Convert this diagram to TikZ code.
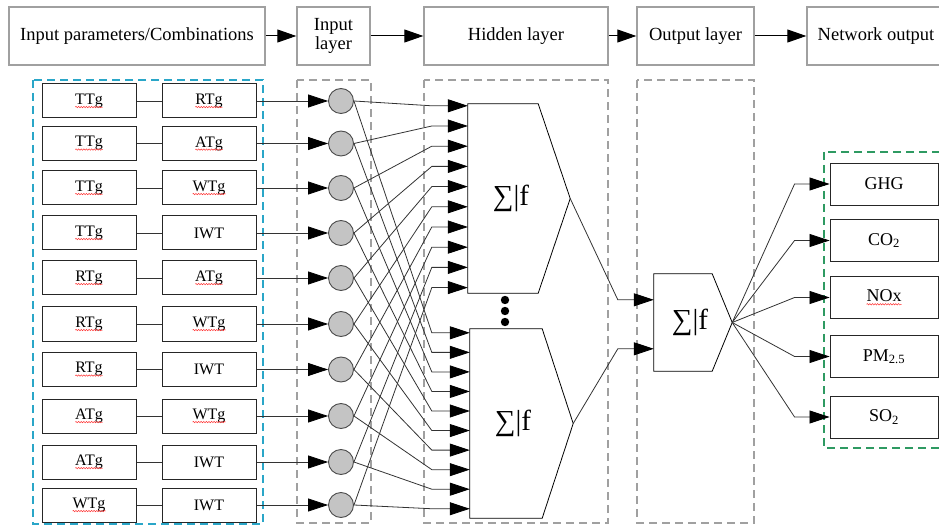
\documentclass[tikz,border=0pt]{standalone}
\usepackage{fontspec}
\setmainfont{Liberation Serif}
\usetikzlibrary{arrows.meta,calc,decorations.pathmorphing}

\definecolor{framegray}{HTML}{A0A0A0}
\definecolor{cyanframe}{HTML}{2AA6C8}
\definecolor{greenframe}{HTML}{2E9A62}
\definecolor{cellgray}{HTML}{C4C4C4}

% red spell-check wave under a word
\newcommand{\spell}[1]{\tikz[baseline=(w.base)]{%
  \node[shape=rectangle, draw=none, fill=none, minimum width=0pt, minimum height=0pt,
    inner sep=0pt, outer sep=0pt] (w) {#1};
  \draw[red!80, line width=0.5pt, decorate, decoration={snake,amplitude=0.7pt,segment length=2.6pt}]
    ([yshift=-2.6pt]w.base west) -- ([yshift=-2.6pt]w.base east);}}
\newcommand{\sumf}[1]{\kern#1∑|f}

\tikzset{
  headbox/.style={draw=framegray, line width=1.4pt, minimum height=58pt, inner sep=2pt,
    align=center, font=\fontsize{18.5}{21}\selectfont},
  headarrow/.style={draw=black, line width=1pt, -{Triangle[length=19pt,width=13pt]}},
  parambox/.style={draw=black!85, line width=1pt, minimum width=94pt, minimum height=34pt,
    font=\fontsize{16}{19}\selectfont},
  neuron/.style={circle, draw=black!70, fill=cellgray, line width=0.9pt, minimum size=25pt, inner sep=0pt},
  outbox/.style={draw=black!85, line width=0.9pt, minimum width=108pt, minimum height=42pt,
    font=\fontsize{18}{21}\selectfont},
  sumcell/.style={inner sep=0pt, font=\fontsize{29}{31}\selectfont},
  wire/.style={draw=black!80, line width=0.8pt},
  feed/.style={wire, -{Triangle[length=20pt,width=13pt,black]}},
  column/.style={draw=framegray, dash pattern=on 8pt off 5pt, line width=1.4pt}
}

\begin{document}
\begin{tikzpicture}[x=1pt,y=-1pt]
  \useasboundingbox (0,0) rectangle (939,526);

  % header
  \node[headbox, minimum width=256pt] (t1) at (137,36)   {Input parameters/Combinations};
  \node[headbox, minimum width=73pt]  (t2) at (333.5,36) {Input\\[-2pt]layer};
  \node[headbox, minimum width=184pt] (t3) at (516,36)   {Hidden layer};
  \node[headbox, minimum width=117pt] (t4) at (695.5,36) {Output layer};
  \node[headbox, minimum width=138pt] (t5) at (876,36)   {Network output};
  \draw[headarrow] (t1) -- (t2);
  \draw[headarrow] (t2) -- (t3);
  \draw[headarrow] (t3) -- (t4);
  \draw[headarrow] (t4) -- (t5);

  % dashed frames
  \draw[column, draw=cyanframe, line width=1.8pt] (33,80) rectangle (263,524);
  \draw[column] (297,80) rectangle (371,523);
  \draw[column] (424,80) rectangle (608,523);
  \draw[column] (637,80) rectangle (754,523);
  \draw[column, draw=greenframe, line width=1.8pt] (824,152) rectangle (950,448);

  % parameter pairs and input neurons
  \foreach \lft/\rgt/\y [count=\i] in {
      \spell{TTg}/\spell{RTg}/101, \spell{TTg}/\spell{ATg}/143.5,
      \spell{TTg}/\spell{WTg}/188, \spell{TTg}/IWT/233,
      \spell{RTg}/\spell{ATg}/278, \spell{RTg}/\spell{WTg}/324,
      \spell{RTg}/IWT/369.5, \spell{ATg}/\spell{WTg}/416,
      \spell{ATg}/IWT/462, \spell{WTg}/IWT/505} {
    \node[parambox] (a\i) at (89,\y)  {\lft};
    \node[parambox] (b\i) at (209,\y) {\rgt};
    \node[neuron]   (n\i) at (341,\y) {};
    \draw[wire] (a\i) -- (b\i);
    \draw[feed] (b\i) -- (n\i);
  }

  % hidden neurons
  \node[sumcell, minimum width=102pt, minimum height=189pt] (h1) at (519,198.5) {\sumf{-16pt}};
  \node[sumcell, minimum width=103pt, minimum height=189pt] (h2) at (521.5,423.5) {\sumf{-17pt}};
  \draw[line width=0.8pt] (h1.north west) -- ($(h1.north east)+(-32,0)$) -- (h1.east)
    -- ($(h1.south east)+(-32,0)$) -- (h1.south west) -- cycle;
  \draw[line width=0.8pt] (h2.north west) -- ($(h2.north east)+(-31,0)$) -- (h2.east)
    -- ($(h2.south east)+(-31,0)$) -- (h2.south west) -- cycle;
  \foreach \d in {300,311,322}
    \fill (505,\d) circle (4.2pt);

  \foreach \i in {1,...,10} {
    \coordinate (u\i) at ($(h1.north west)+(0,{20.2*\i-18.2})$);
    \coordinate (l\i) at ($(h2.north west)+(0,{19.55*\i-15.55})$);
    \draw[feed] (n\i.east) -- ($(u\i)+(-36,0)$) -- (u\i);
    \draw[feed] (n\i.east) -- ($(l\i)+(-38,0)$) -- (l\i);
  }

  % output neuron
  \node[sumcell, minimum width=78pt, minimum height=97pt] (o) at (693,322.5) {\sumf{-6pt}};
  \draw[line width=0.8pt] (o.north west) -- ($(o.north east)+(-20,0)$) -- (o.east)
    -- ($(o.south east)+(-20,0)$) -- (o.south west) -- cycle;
  \coordinate (o1) at ($(o.north west)+(0,26)$);
  \coordinate (o2) at ($(o.north west)+(0,75)$);
  \draw[feed] (h1.east) -- ($(o1)+(-36,0)$) -- (o1);
  \draw[feed] (h2.east) -- ($(o2)+(-36,0)$) -- (o2);

  % network outputs
  \node[outbox] (ghg) at (884,184)   {GHG};
  \node[outbox] (co2) at (884,240.5) {CO\textsubscript{2}};
  \node[outbox] (nox) at (884,297.5) {\spell{NOx}};
  \node[outbox] (pm)  at (884,356.5) {PM\textsubscript{2.5}};
  \node[outbox] (so2) at (884,417)   {SO\textsubscript{2}};
  \foreach \g in {ghg,co2,nox,pm,so2}
    \draw[feed] (o.east) -- ($(\g.west)+(-35,0)$) -- (\g.west);
\end{tikzpicture}
\end{document}
